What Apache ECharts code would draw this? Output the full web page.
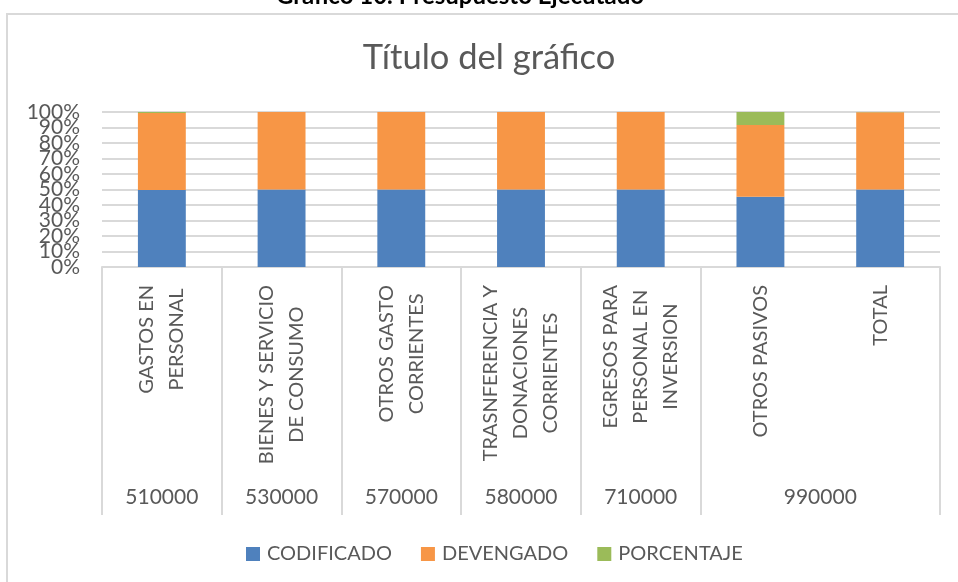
<!DOCTYPE html>
<html><head><meta charset="utf-8">
<script src="https://cdn.jsdelivr.net/npm/echarts@6/dist/echarts.min.js"></script>
<style>html,body{margin:0;padding:0;background:#fff}#c{width:958px;height:582px}</style>
</head><body><div id="c"></div>
<script>
const categories = ['GASTOS EN\nPERSONAL', 'BIENES Y SERVICIO\nDE CONSUMO', 'OTROS GASTO\nCORRIENTES', 'TRASNFERENCIA Y\nDONACIONES\nCORRIENTES', 'EGRESOS PARA\nPERSONAL EN\nINVERSION', 'OTROS PASIVOS', 'TOTAL'];
const codes = ['510000', '530000', '570000', '580000', '710000', '990000'];
const codeSpans = [1, 1, 1, 1, 1, 2];
const seriesNames = ['CODIFICADO', 'DEVENGADO', 'PORCENTAJE'];
const codificado = [49.7, 50, 50, 50, 50, 45.4, 49.95];
const devengado = [49.6, 49.98, 49.98, 49.99, 49.99, 46.2, 49.9];
const porcentaje = [0.7, 0.02, 0.02, 0.01, 0.01, 8.4, 0.15];
const yTicks = [0, 10, 20, 30, 40, 50, 60, 70, 80, 90, 100];

const FONT = 'Lato';
const GREY = '#595959';
const LINE = '#d9d9d9';

const totals = categories.map((_, i) => codificado[i] + devengado[i] + porcentaje[i]);
const share = arr => arr.map((v, i) => v / totals[i] * 100);

const bounds = [0], centers = [];
let acc = 0;
codeSpans.forEach(s => { centers.push(acc + s / 2); acc += s; bounds.push(acc); });

const yEven = yTicks.filter((_, i) => i % 2 === 0);
const yOdd = yTicks.filter((_, i) => i % 2 === 1);
const yMin = yTicks[0], yMax = yTicks[yTicks.length - 1], yStep = yTicks[1] - yTicks[0];

function yAxisDef(vals, showSplit) {
  return {
    type: 'value', min: yMin, max: yMax, interval: yStep, position: 'left',
    axisLine: {show: false}, axisTick: {show: false},
    splitLine: {show: showSplit, lineStyle: {color: LINE, width: 2}},
    axisLabel: {customValues: vals, formatter: '{value}%', color: GREY, fontFamily: FONT, fontSize: 21, margin: 22,
      showMinLabel: true, showMaxLabel: true}
  };
}

const chart = echarts.init(document.getElementById('c'), null, {renderer: 'canvas'});
chart.setOption({
  animation: false,
  color: ['#4F81BD', '#F79646', '#9BBB59'],
  graphic: [
    {type: 'rect', shape: {x: 7, y: 14, width: 1000, height: 700}, style: {fill: 'none', stroke: LINE, lineWidth: 2}, silent: true},
    {type: 'text', x: 460, y: -4, style: {text: 'Gráfico 10. Presupuesto Ejecutado', font: 'bold 24px ' + FONT, fill: '#000', align: 'center', verticalAlign: 'middle'}},
    {type: 'text', x: 489, y: 58, style: {text: 'Título del gráfico', font: '34.5px ' + FONT, fill: GREY, align: 'center', verticalAlign: 'middle'}}
  ],
  legend: {
    data: seriesNames, left: 241, top: 539, icon: 'rect', itemWidth: 14, itemHeight: 14, itemGap: 29,
    textStyle: {fontFamily: FONT, fontSize: 20, color: GREY, padding: [0, 0, 0, 2]}
  },
  grid: {left: 102, right: 18, top: 112, bottom: 315, containLabel: false},
  xAxis: [
    {
      type: 'category', data: categories, position: 'bottom',
      axisLine: {lineStyle: {color: LINE, width: 2}}, axisTick: {show: false}, splitLine: {show: false},
      axisLabel: {
        interval: 0, rotate: 90, margin: 18, color: GREY, fontFamily: FONT, fontSize: 20,
        formatter: v => v.split('\n').map(l => '{c|' + l + '}').join('\n'),
        rich: {c: {align: 'center', fontFamily: FONT, fontSize: 20, lineHeight: 30, color: GREY}}
      }
    },
    {
      type: 'value', min: 0, max: acc, position: 'bottom',
      axisLine: {show: false}, splitLine: {show: false},
      axisTick: {show: true, customValues: bounds, length: 248, lineStyle: {color: LINE, width: 2}},
      axisLabel: {
        customValues: centers, margin: 220, color: GREY, fontFamily: FONT, fontSize: 21,
        formatter: v => codes[centers.indexOf(v)]
      }
    }
  ],
  yAxis: [yAxisDef(yEven, true), yAxisDef(yOdd, false)],
  series: [codificado, devengado, porcentaje].map((arr, k) => ({
    name: seriesNames[k], type: 'bar', stack: 'total', xAxisIndex: 0, yAxisIndex: 0,
    barCategoryGap: '60%', data: share(arr)
  }))
});
</script></body></html>
